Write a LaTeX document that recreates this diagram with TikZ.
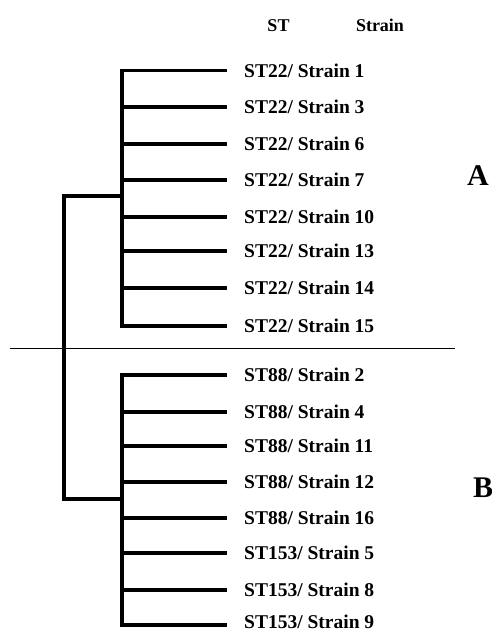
\documentclass[tikz,border=0pt]{standalone}
\usepackage{fontspec}
\setmainfont{Liberation Serif}
\begin{document}
\begin{tikzpicture}[x=1pt,y=-1pt,
  branch/.style={line width=3.2pt,line cap=rect,line join=miter},
  sep/.style={line width=1pt},
  leaf/.style={anchor=west,inner sep=0pt,font=\fontsize{19.5}{21}\selectfont\bfseries},
  head/.style={inner sep=0pt,anchor=base,font=\fontsize{18}{20}\selectfont\bfseries},
  group/.style={inner sep=0pt,font=\fontsize{30}{32}\selectfont\bfseries}]
\useasboundingbox (0,0) rectangle (492,632);
\fill[white] (0,0) rectangle (492,632);
% headers
\node[head] (hST) at (278.5,31) {ST};
\node[head] (hStrain) at (380,31) {Strain};
% leaves
\foreach \i/\y/\ty/\t in {1/70.5/70.5/{ST22/ Strain 1}, 2/107/107/{ST22/ Strain 3}, 3/144/144/{ST22/ Strain 6}, 4/180/180/{ST22/ Strain 7}, 5/217/217/{ST22/ Strain 10}, 6/251/251/{ST22/ Strain 13}, 7/288/288/{ST22/ Strain 14}, 8/326/326/{ST22/ Strain 15}, 9/375/375/{ST88/ Strain 2}, 10/412/412/{ST88/ Strain 4}, 11/446/446/{ST88/ Strain 11}, 12/482/482/{ST88/ Strain 12}, 13/518/518/{ST88/ Strain 16}, 14/553/553/{ST153/ Strain 5}, 15/590/590/{ST153/ Strain 8}, 16/625/622/{ST153/ Strain 9}}{
  \node[leaf] (L\i) at (244,\ty) {\t};
  \coordinate (e\i) at (225,\y);
  \coordinate (j\i) at (122,\y);
}
% clade A
\draw[branch] (e1) -- (j1) -- (j8) -- (e8);
\foreach \i in {2,...,7}{\draw[branch] (j\i) -- (e\i);}
% clade B
\draw[branch] (e9) -- (j9) -- (j16) -- (e16);
\foreach \i in {10,...,15}{\draw[branch] (j\i) -- (e\i);}
% root
\coordinate (nA) at (122,196);
\coordinate (nB) at (122,499);
\coordinate (rA) at (64,196);
\coordinate (rB) at (64,499);
\draw[branch] (nA) -- (rA) -- (rB) -- (nB);
% separator
\coordinate (s1) at (10,348);
\coordinate (s2) at (455,348);
\draw[sep] (s1) -- (s2);
% group labels
\node[group,anchor=west] (gA) at (467,176) {A};
\node[group,anchor=west] (gB) at (473,488) {B};
\end{tikzpicture}
\end{document}
